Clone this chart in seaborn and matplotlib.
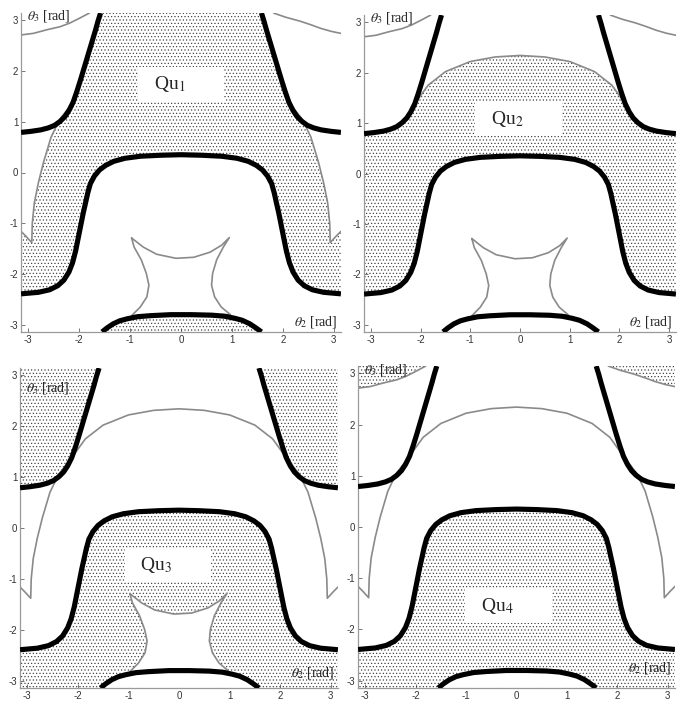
import numpy as np
import matplotlib
matplotlib.use("Agg")
import matplotlib.pyplot as plt
import seaborn as sns

PI = np.pi

# ---- singularity curves (thick black), theta2 / theta3 in rad ----
top_left_t2 = [-1.58, -1.63, -1.68, -1.74, -1.8, -1.86, -1.92, -1.98, -2.05, -2.12, -2.2, -2.28, -2.37,
               -2.48, -2.6, -2.75, -2.95, -3.14]
top_left_t3 = [3.14, 2.98, 2.8, 2.6, 2.4, 2.2, 2.0, 1.8, 1.58, 1.38, 1.22, 1.1, 1.01,
               0.93, 0.88, 0.84, 0.81, 0.79]
top_right_t2 = [1.58, 1.63, 1.68, 1.74, 1.8, 1.86, 1.92, 1.98, 2.05, 2.12, 2.2, 2.28, 2.37,
                2.48, 2.6, 2.75, 2.95, 3.14]
top_right_t3 = [3.14, 2.98, 2.8, 2.6, 2.4, 2.2, 2.0, 1.8, 1.58, 1.38, 1.22, 1.1, 1.01,
                0.93, 0.88, 0.84, 0.81, 0.79]

hump_t2 = [-3.14, -2.8, -2.58, -2.42, -2.3, -2.2, -2.13, -2.07, -2.02, -1.97, -1.92, -1.87, -1.83, -1.78,
           -1.7, -1.6, -1.48, -1.32, -1.1, -0.8, -0.4, 0.0,
           0.4, 0.8, 1.1, 1.32, 1.48, 1.6, 1.7, 1.78, 1.83, 1.87, 1.92, 1.97, 2.02, 2.07, 2.13,
           2.2, 2.3, 2.42, 2.58, 2.8, 3.14]
hump_t3 = [-2.39, -2.36, -2.31, -2.23, -2.12, -1.96, -1.78, -1.55, -1.3, -1.05, -0.8, -0.58, -0.4, -0.22,
           -0.07, 0.05, 0.14, 0.22, 0.28, 0.32, 0.34, 0.35,
           0.34, 0.32, 0.28, 0.22, 0.14, 0.05, -0.07, -0.22, -0.4, -0.58, -0.8, -1.05, -1.3, -1.55, -1.78,
           -1.96, -2.12, -2.23, -2.31, -2.36, -2.39]

bottom_t2 = [-1.55, -1.45, -1.33, -1.2, -1.05, -0.85, -0.6, -0.2, 0.2, 0.6, 0.85, 1.05, 1.2, 1.35, 1.47, 1.58]
bottom_t3 = [-3.14, -3.06, -2.98, -2.92, -2.88, -2.84, -2.82, -2.8, -2.8, -2.81, -2.83, -2.87, -2.91, -2.98,
             -3.06, -3.14]

# ---- workspace boundaries (thin gray) ----
arc_t2 = [-3.14, -3.05, -2.93, -2.92, -2.88, -2.8, -2.7, -2.55, -2.38, -2.12, -1.85, -1.5, -1.0, -0.5, 0.0,
          0.5, 1.0, 1.5, 1.85, 2.12, 2.38, 2.55, 2.7, 2.8, 2.88, 2.92, 2.93, 3.05, 3.14]
arc_t3 = [-1.16, -1.25, -1.38, -1.0, -0.6, -0.2, 0.2, 0.7, 1.05, 1.38, 1.75, 2.02, 2.22, 2.31, 2.34,
          2.31, 2.22, 2.02, 1.75, 1.38, 1.05, 0.7, 0.2, -0.2, -0.6, -1.0, -1.38, -1.25, -1.16]

astroid_t2 = [-0.97, -0.74, -0.48, -0.1, 0.25, 0.57, 0.8, 0.95,
              0.83, 0.7, 0.62, 0.6, 0.66, 0.79, 0.97,
              -0.97, -0.8, -0.67, -0.63, -0.68, -0.78, -0.92, -0.97]
astroid_t3 = [-1.29, -1.47, -1.61, -1.69, -1.67, -1.57, -1.43, -1.28,
              -1.47, -1.72, -1.99, -2.22, -2.45, -2.65, -2.8,
              -2.82, -2.65, -2.45, -2.22, -1.99, -1.72, -1.47, -1.29]

corner_left_t2 = [-3.14, -2.9, -2.64, -2.38, -2.19, -1.99, -1.8]
corner_left_t3 = [2.71, 2.74, 2.81, 2.87, 2.94, 3.04, 3.14]
corner_right_t2 = [1.82, 2.05, 2.34, 2.55, 2.74, 2.95, 3.14]
corner_right_t3 = [3.14, 3.06, 2.98, 2.91, 2.84, 2.78, 2.74]

# label positions (box centre) for the four solutions
qu_labels = ["Qu$_1$", "Qu$_2$", "Qu$_3$", "Qu$_4$"]
qu_t2 = [0.0, -0.03, -0.22, -0.16]
qu_t3 = [1.74, 1.08, -0.73, -1.54]

sns.set_style("white")
plt.rcParams["font.family"] = ["Liberation Serif", "DejaVu Serif"]
plt.rcParams["mathtext.fontset"] = "stix"
plt.rcParams["axes.unicode_minus"] = False
plt.rcParams["hatch.linewidth"] = 0.45

fig = plt.figure(figsize=(6.77, 7.04), dpi=100)
W, H = 677, 704
boxes = [(21, 341, 13, 332), (364, 676, 15, 332), (20, 338, 368, 688), (358, 675, 366, 688)]
axes = [fig.add_axes([l / W, 1 - b / H, (r - l) / W, (b - t) / H]) for l, r, t, b in boxes]

DOT = dict(facecolor="none", edgecolor="#3a3a3a", linewidth=0, hatch=".....", zorder=1)
WHITE = dict(facecolor="white", edgecolor="none", zorder=1.5)
K = 9  # index where the gray arc meets the black side curves


def gray(ax, x, y):
    sns.lineplot(x=x, y=y, sort=False, estimator=None, color="#8a8a8a", linewidth=1.2, ax=ax, zorder=2)


def black(ax):
    for x, y in [(top_left_t2, top_left_t3), (top_right_t2, top_right_t3),
                 (hump_t2, hump_t3), (bottom_t2, bottom_t3)]:
        sns.lineplot(x=x, y=y, sort=False, estimator=None, color="black", linewidth=3.7,
                     solid_capstyle="butt", ax=ax, zorder=3)


# panel 1
ax = axes[0]
ax.fill(top_left_t2[:K + 1] + arc_t2[K::-1] + hump_t2 + arc_t2[:-K - 2:-1] + top_right_t2[K::-1],
        top_left_t3[:K + 1] + arc_t3[K::-1] + hump_t3 + arc_t3[:-K - 2:-1] + top_right_t3[K::-1], **DOT)
ax.fill(bottom_t2, bottom_t3, **DOT)
gray(ax, arc_t2[:K + 1], arc_t3[:K + 1])
gray(ax, arc_t2[-K - 1:], arc_t3[-K - 1:])
gray(ax, astroid_t2, astroid_t3)
gray(ax, corner_left_t2, corner_left_t3)
gray(ax, corner_right_t2, corner_right_t3)

# panel 2
ax = axes[1]
ax.fill(top_left_t2[:K - 1:-1] + arc_t2[K:-K] + top_right_t2[K:] + hump_t2[::-1],
        top_left_t3[:K - 1:-1] + arc_t3[K:-K] + top_right_t3[K:] + hump_t3[::-1], **DOT)
gray(ax, arc_t2[K:-K], arc_t3[K:-K])
gray(ax, astroid_t2, astroid_t3)
gray(ax, corner_left_t2, corner_left_t3)
gray(ax, corner_right_t2, corner_right_t3)

# panel 3
ax = axes[2]
ax.fill(top_left_t2 + [-PI], top_left_t3 + [PI], **DOT)
ax.fill(top_right_t2 + [PI], top_right_t3 + [PI], **DOT)
ax.fill(hump_t2 + [PI, -PI], hump_t3 + [-PI, -PI], **DOT)
ax.fill(astroid_t2, astroid_t3, **WHITE)
ax.fill(bottom_t2, bottom_t3, **WHITE)
gray(ax, arc_t2, arc_t3)
gray(ax, astroid_t2, astroid_t3)

# panel 4
ax = axes[3]
ax.fill(corner_left_t2 + [-PI], corner_left_t3 + [PI], **DOT)
ax.fill(corner_right_t2 + [PI], corner_right_t3 + [PI], **DOT)
ax.fill(hump_t2 + [PI, -PI], hump_t3 + [-PI, -PI], **DOT)
ax.fill(bottom_t2, bottom_t3, **WHITE)
gray(ax, arc_t2, arc_t3)
gray(ax, corner_left_t2, corner_left_t3)
gray(ax, corner_right_t2, corner_right_t3)

theta3_y = [3.08, 3.08, 2.75, 3.07]
theta2_y = [-2.95, -2.95, -2.84, -2.76]

for i, ax in enumerate(axes):
    black(ax)
    ax.set_xlim(-PI, PI)
    ax.set_ylim(-PI, PI)
    ax.set_xticks(range(-3, 4))
    ax.set_yticks(range(-3, 4))
    ax.set_xlabel("")
    ax.set_ylabel("")
    for s in ["top", "right"]:
        ax.spines[s].set_visible(False)
    for s in ["left", "bottom"]:
        ax.spines[s].set_color("#9a9a9a")
        ax.spines[s].set_linewidth(0.9)
    ax.tick_params(direction="in", length=3, width=0.7, color="#777777", labelsize=7,
                   labelcolor="#333333", pad=2, left=True, bottom=True)
    for lab in ax.get_xticklabels() + ax.get_yticklabels():
        lab.set_fontfamily("Liberation Sans")
    ax.text(-3.02, theta3_y[i], r"$\theta_3$ [rad]", fontsize=10, ha="left", va="center", zorder=4)
    ax.text(3.08, theta2_y[i], r"$\theta_2$ [rad]", fontsize=10, ha="right", va="center", zorder=4)
    ax.text(qu_t2[i], qu_t3[i], "  " + qu_labels[i] + "       ", fontsize=14, ha="center", va="center",
            zorder=4, bbox=dict(boxstyle="square,pad=0.35", fc="white", ec="none"))

fig.savefig("out.png", dpi=100)
